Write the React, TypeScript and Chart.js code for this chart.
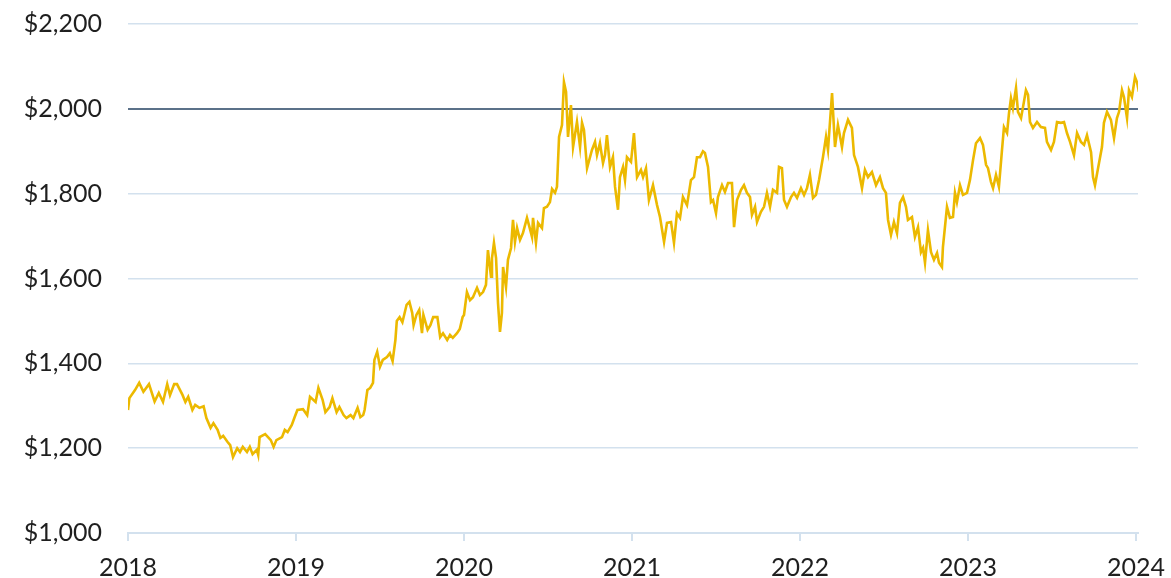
import React, { useEffect, useRef } from "react";
import { Chart, registerables } from "chart.js";

Chart.register(...registerables);

// Gold price, USD per ounce. Each year: month offsets (0-12) and prices.
const months2018 = [0.0, 0.1, 0.5, 0.8, 1.1, 1.5, 1.9, 2.2, 2.5, 2.8, 3.0, 3.3, 3.5, 3.9, 4.1, 4.3, 4.6, 4.8, 5.1, 5.4, 5.6, 5.9, 6.1, 6.4, 6.6, 6.8, 7.1, 7.3, 7.5, 7.8, 8.0, 8.2, 8.5, 8.7, 8.9, 9.2, 9.3, 9.4, 9.8, 10.0, 10.2, 10.4, 10.6, 11.0, 11.2, 11.4, 11.7, 11.9];
const prices2018 = [1290, 1318, 1337, 1354, 1333, 1351, 1310, 1330, 1309, 1351, 1325, 1351, 1351, 1325, 1309, 1321, 1290, 1302, 1295, 1299, 1271, 1248, 1259, 1243, 1224, 1229, 1215, 1207, 1179, 1200, 1191, 1203, 1191, 1203, 1186, 1196, 1184, 1226, 1233, 1226, 1219, 1203, 1219, 1226, 1243, 1238, 1255, 1273];

const months2019 = [0.1, 0.5, 0.8, 1.0, 1.4, 1.6, 1.9, 2.1, 2.4, 2.6, 2.9, 3.1, 3.4, 3.6, 3.9, 4.1, 4.4, 4.6, 4.8, 4.9, 5.1, 5.3, 5.5, 5.6, 5.8, 6.0, 6.2, 6.5, 6.7, 6.9, 7.1, 7.2, 7.4, 7.6, 7.9, 8.1, 8.3, 8.4, 8.6, 8.8, 9.0, 9.1, 9.4, 9.6, 9.8, 10.1, 10.3, 10.5, 10.8, 11.0, 11.2, 11.5, 11.7, 11.9];
const prices2019 = [1290, 1292, 1278, 1321, 1309, 1342, 1314, 1285, 1297, 1318, 1285, 1297, 1278, 1271, 1278, 1271, 1295, 1273, 1278, 1290, 1337, 1342, 1354, 1408, 1427, 1392, 1408, 1415, 1424, 1405, 1455, 1500, 1509, 1497, 1538, 1545, 1519, 1490, 1514, 1526, 1471, 1514, 1479, 1490, 1509, 1509, 1462, 1471, 1455, 1467, 1460, 1471, 1481, 1509];

const months2020 = [0.0, 0.21, 0.43, 0.64, 0.93, 1.14, 1.36, 1.57, 1.71, 1.93, 2.0, 2.14, 2.29, 2.43, 2.57, 2.71, 2.79, 3.0, 3.14, 3.36, 3.5, 3.64, 3.79, 4.0, 4.21, 4.5, 4.64, 4.86, 4.93, 5.14, 5.29, 5.57, 5.71, 5.93, 6.14, 6.29, 6.5, 6.64, 6.79, 7.0, 7.14, 7.29, 7.43, 7.64, 7.79, 8.07, 8.29, 8.43, 8.57, 8.79, 9.14, 9.36, 9.5, 9.71, 9.93, 10.07, 10.21, 10.43, 10.64, 10.79, 11.0, 11.14, 11.36, 11.5, 11.64, 11.93];
const prices2020 = [1514, 1568, 1549, 1556, 1578, 1561, 1568, 1585, 1667, 1604, 1648, 1684, 1648, 1542, 1474, 1519, 1627, 1580, 1644, 1672, 1738, 1686, 1719, 1691, 1707, 1743, 1726, 1698, 1743, 1684, 1731, 1719, 1766, 1769, 1780, 1811, 1802, 1816, 1934, 1962, 2063, 2040, 1934, 2009, 1910, 1969, 1910, 1967, 1950, 1860, 1903, 1922, 1891, 1919, 1872, 1891, 1938, 1863, 1886, 1816, 1762, 1839, 1863, 1832, 1886, 1875];

const months2021 = [0.14, 0.36, 0.64, 0.79, 1.0, 1.21, 1.5, 1.79, 2.0, 2.29, 2.5, 2.79, 3.0, 3.21, 3.43, 3.64, 3.93, 4.21, 4.43, 4.64, 4.86, 5.07, 5.21, 5.43, 5.64, 5.79, 6.0, 6.14, 6.43, 6.64, 6.86, 7.14, 7.29, 7.5, 7.79, 8.0, 8.21, 8.43, 8.57, 8.79, 8.93, 9.21, 9.43, 9.64, 9.86, 10.07, 10.36, 10.5, 10.71, 10.86, 11.07, 11.36, 11.57, 11.79];
const prices2021 = [1943, 1839, 1856, 1839, 1860, 1785, 1820, 1773, 1745, 1686, 1731, 1733, 1684, 1754, 1743, 1792, 1773, 1832, 1839, 1886, 1886, 1900, 1896, 1863, 1780, 1785, 1754, 1792, 1820, 1804, 1825, 1825, 1721, 1785, 1809, 1820, 1802, 1792, 1750, 1769, 1733, 1757, 1769, 1802, 1769, 1809, 1802, 1863, 1860, 1785, 1769, 1792, 1802, 1790];

const months2022 = [0.07, 0.29, 0.5, 0.71, 0.93, 1.14, 1.36, 1.64, 1.86, 2.0, 2.29, 2.5, 2.71, 3.0, 3.14, 3.43, 3.71, 3.86, 4.14, 4.43, 4.64, 4.86, 5.14, 5.43, 5.71, 5.93, 6.14, 6.29, 6.5, 6.71, 6.93, 7.14, 7.36, 7.57, 7.71, 8.0, 8.21, 8.43, 8.64, 8.79, 8.93, 9.14, 9.36, 9.57, 9.79, 9.93, 10.14, 10.21, 10.5, 10.71, 10.93, 11.07, 11.21, 11.43, 11.64, 11.93];
const prices2022 = [1813, 1797, 1813, 1844, 1790, 1797, 1832, 1886, 1934, 1903, 2037, 1910, 1962, 1910, 1943, 1974, 1955, 1891, 1863, 1813, 1856, 1839, 1851, 1820, 1839, 1813, 1802, 1738, 1703, 1733, 1707, 1778, 1792, 1769, 1738, 1745, 1698, 1721, 1662, 1672, 1637, 1714, 1662, 1644, 1660, 1637, 1627, 1674, 1769, 1743, 1745, 1802, 1780, 1820, 1797, 1802];

const months2023 = [0.14, 0.36, 0.57, 0.86, 1.07, 1.29, 1.43, 1.64, 1.79, 2.0, 2.21, 2.43, 2.57, 2.79, 2.93, 3.07, 3.21, 3.43, 3.57, 3.79, 3.93, 4.14, 4.29, 4.43, 4.64, 4.93, 5.21, 5.5, 5.64, 5.93, 6.14, 6.36, 6.64, 6.86, 7.07, 7.29, 7.57, 7.79, 8.07, 8.29, 8.5, 8.79, 8.93, 9.07, 9.29, 9.57, 9.71, 9.93, 10.21, 10.43, 10.64, 10.79, 11.0, 11.14, 11.36, 11.5, 11.71, 11.93];
const prices2023 = [1832, 1879, 1919, 1931, 1915, 1868, 1860, 1828, 1813, 1844, 1816, 1903, 1957, 1943, 1990, 2025, 2002, 2049, 1993, 1978, 2004, 2044, 2033, 1969, 1955, 1969, 1957, 1955, 1922, 1903, 1922, 1969, 1967, 1969, 1943, 1922, 1891, 1943, 1922, 1915, 1938, 1898, 1839, 1820, 1860, 1910, 1967, 1993, 1974, 1931, 1978, 1993, 2044, 2028, 1978, 2044, 2028, 2075];

const months2024 = [0.07, 0.21];
const prices2024 = [2063, 2040];

const yearTicks = [2018, 2019, 2020, 2021, 2022, 2023, 2024];
const yTicks = [1000, 1200, 1400, 1600, 1800, 2000, 2200];
const referenceLevel = 2000;

const yearBlocks: [number, number[], number[]][] = [
  [2018, months2018, prices2018],
  [2019, months2019, prices2019],
  [2020, months2020, prices2020],
  [2021, months2021, prices2021],
  [2022, months2022, prices2022],
  [2023, months2023, prices2023],
  [2024, months2024, prices2024],
];

export default function App() {
  const ref = useRef<HTMLCanvasElement>(null);

  useEffect(() => {
    document.body.style.margin = "0";
    const points: { x: number; y: number }[] = [];
    yearBlocks.forEach(([yr, ms, ps]) => {
      ms.forEach((m, i) => points.push({ x: yr + m / 12, y: ps[i] }));
    });
    const font = { family: "Lato, 'Noto Sans', sans-serif", size: 25 };
    const chart = new Chart(ref.current!, {
      type: "line",
      data: {
        datasets: [
          {
            data: points,
            borderColor: "#ECB900",
            borderWidth: 2.6,
            pointRadius: 0,
            tension: 0,
            fill: false,
          },
        ],
      },
      options: {
        animation: false,
        responsive: false,
        parsing: false as any,
        layout: { padding: { top: 24, right: 33, left: 0, bottom: 0 } },
        plugins: { legend: { display: false }, tooltip: { enabled: false } },
        scales: {
          x: {
            type: "linear",
            min: 2018,
            max: 2024.012,
            afterBuildTicks: (s: any) => {
              s.ticks = yearTicks.map((v) => ({ value: v }));
            },
            afterFit: (s: any) => {
              s.height = 45;
              s.paddingLeft = 0;
              s.paddingRight = 0;
            },
            ticks: {
              font,
              color: "#1f1f1f",
              padding: 12,
              maxRotation: 0,
              autoSkip: false,
              callback: (v: any) => String(v),
            },
            grid: {
              drawOnChartArea: false,
              drawTicks: true,
              tickLength: 8,
              color: "#D3E1EE",
              lineWidth: 2,
            },
            border: { display: true, color: "#D3E1EE", width: 2 },
          },
          y: {
            min: 1000,
            max: 2200,
            afterBuildTicks: (s: any) => {
              s.ticks = yTicks.map((v) => ({ value: v }));
            },
            afterFit: (s: any) => {
              s.width = 128;
              s.paddingTop = 0;
              s.paddingBottom = 0;
            },
            ticks: {
              font,
              color: "#1f1f1f",
              padding: 26,
              callback: (v: any) => "$" + Number(v).toLocaleString("en-US"),
            },
            grid: {
              drawTicks: false,
              color: (ctx: any) => (ctx.tick && ctx.tick.value === referenceLevel ? "#5B7189" : "#D3E1EE"),
              lineWidth: (ctx: any) => (ctx.tick && ctx.tick.value === referenceLevel ? 2 : 1.5),
            },
            border: { display: false },
          },
        },
      },
    });
    return () => chart.destroy();
  }, []);

  return <canvas ref={ref} width={1171} height={578} style={{ display: "block" }} />;
}
